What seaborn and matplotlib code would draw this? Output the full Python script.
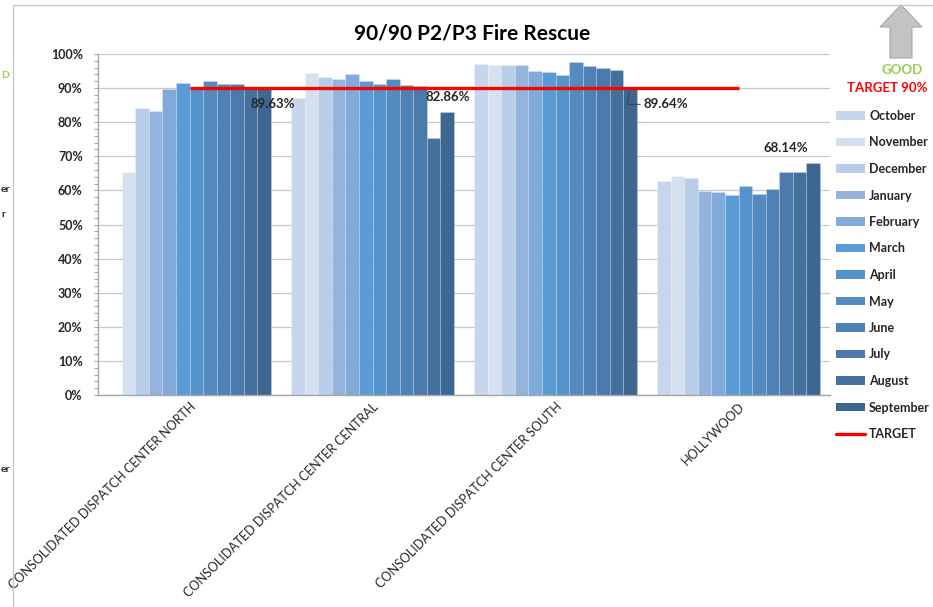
import numpy as np
import pandas as pd
import matplotlib
matplotlib.use("Agg")
import matplotlib.pyplot as plt
import seaborn as sns
from matplotlib.patches import Patch, Polygon
from matplotlib.lines import Line2D
from matplotlib.ticker import MultipleLocator, FuncFormatter

# Data (percent)
months = ["October", "November", "December", "January", "February", "March",
          "April", "May", "June", "July", "August", "September"]
centers = ["CONSOLIDATED DISPATCH CENTER NORTH", "CONSOLIDATED DISPATCH CENTER CENTRAL",
           "CONSOLIDATED DISPATCH CENTER SOUTH", "HOLLYWOOD"]
north = [np.nan, 65.3, 84.3, 83.2, 89.7, 91.4, 90.3, 92.0, 91.3, 91.3, 90.2, 89.63]
central = [87.1, 94.4, 93.2, 92.7, 94.2, 92.1, 91.2, 92.7, 90.9, 90.7, 75.3, 82.86]
south = [97.1, 96.9, 96.9, 96.7, 94.9, 94.6, 93.9, 97.6, 96.4, 95.9, 95.4, 89.64]
hollywood = [62.9, 64.1, 63.6, 59.9, 59.4, 58.7, 61.4, 59.0, 60.5, 65.4, 65.4, 68.14]
target = [90, 90, 90, 90]

month_colors = ["#c6d6ec", "#d5e0f1", "#b9cde8", "#95b4dd", "#80aad9", "#5b9bd5",
                "#5593cc", "#538bc1", "#4e82b6", "#4a7aab", "#44709e", "#3d6690"]

rows = []
for center, vals in zip(centers, [north, central, south, hollywood]):
    for m, v in zip(months, vals):
        rows.append({"center": center, "month": m, "value": v})
df = pd.DataFrame(rows)

sns.set_theme(style="white")
plt.rcParams["font.family"] = ["Lato", "DejaVu Sans"]
text_col = "#262626"

W, H = 933, 607
fig = plt.figure(figsize=(W / 100, H / 100), dpi=100)
ax = fig.add_axes([98 / W, 1 - 395 / H, (830 - 98) / W, (395 - 54) / H])

sns.barplot(data=df, x="center", y="value", hue="month", order=centers,
            hue_order=months, palette=month_colors, width=0.886, saturation=1,
            errorbar=None, dodge=True, legend=False, ax=ax,
            edgecolor=(1, 1, 1, 0.35), linewidth=0.4)

xpos = ax.get_xticks()
ax.plot(xpos, target, color="#ff0000", lw=2.4, solid_capstyle="butt", zorder=5)

ax.set_ylim(0, 100)
ax.set_xlim(-0.5, len(centers) - 0.5)
ax.yaxis.set_major_locator(MultipleLocator(10))
ax.yaxis.set_minor_locator(MultipleLocator(2))
ax.yaxis.set_major_formatter(FuncFormatter(lambda v, p: f"{v:.0f}%"))
ax.grid(axis="y", color="#c8c8c8", lw=0.9)
ax.set_axisbelow(True)
for s in ["top", "right"]:
    ax.spines[s].set_visible(False)
for s in ["left", "bottom"]:
    ax.spines[s].set_color("#a6a6a6")
    ax.spines[s].set_linewidth(1)
ax.tick_params(axis="y", which="both", left=True, length=3, width=0.8,
               color="#a6a6a6", pad=8, labelsize=9, labelcolor=text_col)
ax.tick_params(axis="x", length=0, pad=4, labelsize=9, labelcolor=text_col)
for lab in ax.get_yticklabels():
    lab.set_fontweight("bold")
ax.set_xticks(xpos)
ax.set_xticklabels(centers, rotation=45, ha="right", rotation_mode="anchor")
ax.set_xlabel("")
ax.set_ylabel("")

# data labels on the September bars
sep_bars = ax.containers[-1]
offsets = [(9, -15), (1, 15), (36, -15), (-27, 15)]
for bar, val, off in zip(sep_bars, [north[-1], central[-1], south[-1], hollywood[-1]], offsets):
    x = bar.get_x() + bar.get_width() / 2
    y = bar.get_height()
    kw = {}
    if off[0] > 20:
        kw["arrowprops"] = dict(arrowstyle="-", color="#404040", lw=0.7,
                                shrinkA=0, shrinkB=2,
                                connectionstyle="angle,angleA=0,angleB=80,rad=0")
    ax.annotate(f"{val:.2f}%", (x, y), xytext=off, textcoords="offset pixels",
                ha="center", va="center", fontsize=9.5, fontweight="bold",
                color=text_col, zorder=6, **kw)

# title
fig.text(472 / W, 1 - 33 / H, "90/90 P2/P3 Fire Rescue", ha="center", va="center",
         fontsize=15, fontweight="bold", color="black")

# legend
handles = [Patch(facecolor=c, edgecolor="none") for c in month_colors]
handles.append(Line2D([0], [0], color="#ff0000", lw=2.4))
fig.legend(handles, months + ["TARGET"], loc="upper left",
           bbox_to_anchor=(836 / W, 1 - 110 / H), frameon=False,
           prop={"size": 9, "weight": "bold"}, labelcolor=text_col,
           handlelength=2.3, handleheight=0.65, handletextpad=0.35,
           labelspacing=1.16, borderaxespad=0, borderpad=0)

# GOOD arrow and target note
arrow_px = [(890, 58), (890, 27), (880, 27), (901, 5), (922, 27), (912, 27), (912, 58)]
fig.add_artist(Polygon([(x / W, 1 - y / H) for x, y in arrow_px], closed=True,
                       facecolor="#c3c3c3", edgecolor="#a8a8a8", lw=0.8,
                       transform=fig.transFigure))
fig.text(902 / W, 1 - 70 / H, "GOOD", ha="center", va="center", fontsize=9.5,
         fontweight="bold", color="#92d050")
fig.text(887 / W, 1 - 88 / H, "TARGET 90%", ha="center", va="center", fontsize=9.5,
         fontweight="bold", color="#ff0000")

# frame of the chart and fragments of the neighbour chart on the left
fig.add_artist(Line2D([13 / W, 13 / W], [0, 1 - 5 / H], color="#c8c8c8", lw=1,
                      transform=fig.transFigure))
fig.add_artist(Line2D([13 / W, 1], [1 - 5 / H, 1 - 5 / H], color="#c8c8c8", lw=1,
                      transform=fig.transFigure))
for txt, ypix, col in [("D", 75, "#92d050"), ("er", 190, text_col),
                       ("r", 215, text_col), ("er", 470, text_col)]:
    fig.text(1 / W, 1 - ypix / H, txt, ha="left", va="center", fontsize=7.5,
             fontweight="bold", color=col)

fig.savefig("out.png", dpi=100)
